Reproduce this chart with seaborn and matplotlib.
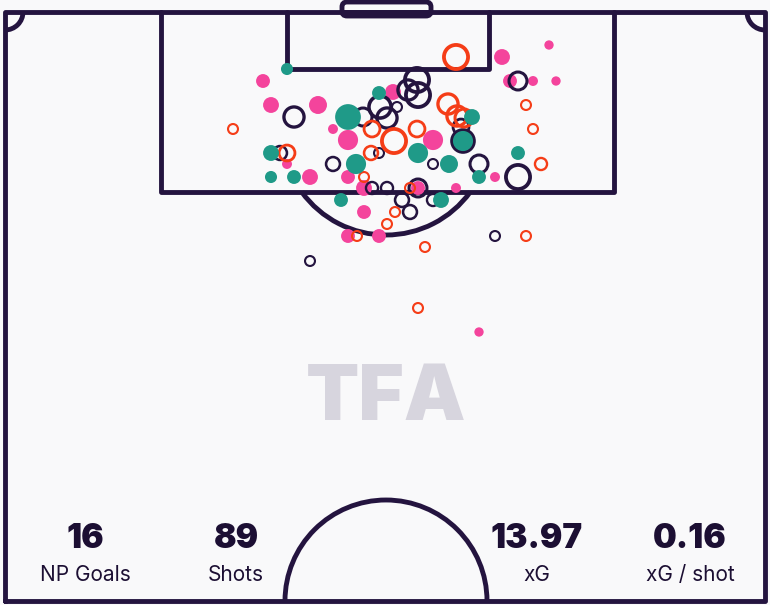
import numpy as np
import pandas as pd
import matplotlib
matplotlib.use("Agg")
import matplotlib.pyplot as plt
from matplotlib.patches import Arc, FancyBboxPatch
import seaborn as sns

# ---- shot data (pitch units, goal line at top) ----
goal_x = [287, 379, 348, 472, 463, 418, 271, 356, 449, 518, 479, 271, 294, 341, 441]
goal_y = [69, 93, 117, 117, 141, 153, 153, 164, 164, 153, 177, 177, 177, 200, 200]
goal_xg = [0.06, 0.10, 0.51, 0.15, 0.28, 0.28, 0.15, 0.28, 0.21, 0.10, 0.10, 0.06, 0.10, 0.10, 0.15]

saved_x = [502, 549, 263, 393, 271, 318, 333, 433, 348, 287, 510, 533, 556, 310, 348,
           364, 418, 456, 495, 364, 348, 379, 479]
saved_y = [57, 45, 81, 92, 105, 105, 129, 140, 140, 164, 81, 81, 81, 177, 177,
           188, 188, 188, 177, 212, 236, 236, 332]
saved_xg = [0.15, 0.01, 0.10, 0.15, 0.15, 0.21, 0.02, 0.28, 0.28, 0.02, 0.10, 0.02, 0.01, 0.15, 0.10,
            0.15, 0.10, 0.02, 0.02, 0.10, 0.10, 0.10, 0.01]

blocked_x = [417, 418, 408, 380, 387, 363, 397, 294, 518, 461, 463, 280, 379, 333, 433,
             479, 518, 372, 387, 418, 402, 433, 410, 495, 310]
blocked_y = [80, 95, 90, 107, 118, 117, 107, 117, 81, 127, 141, 153, 153, 164, 164,
             164, 177, 188, 188, 188, 200, 200, 212, 236, 261]
blocked_xg = [0.43, 0.43, 0.28, 0.35, 0.28, 0.21, 0.02, 0.28, 0.21, 0.15, 0.35, 0.10, 0.02, 0.10, 0.02,
              0.21, 0.43, 0.06, 0.06, 0.21, 0.10, 0.06, 0.10, 0.02, 0.02]

offt_x = [456, 233, 372, 394, 417, 448, 457, 464, 371, 287, 541, 533, 526, 364, 410,
          395, 387, 357, 526, 425, 418]
offt_y = [57, 129, 129, 141, 129, 104, 116, 118, 153, 153, 164, 129, 105, 177, 188,
          212, 224, 236, 236, 247, 308]
offt_xg = [0.43, 0.02, 0.15, 0.43, 0.15, 0.28, 0.28, 0.21, 0.10, 0.15, 0.06, 0.02, 0.02, 0.02, 0.02,
           0.02, 0.02, 0.02, 0.02, 0.02, 0.02]

stat_values = ["16", "89", "13.97", "0.16"]
stat_labels = ["NP Goals", "Shots", "xG", "xG / shot"]

# ---- styling ----
BG = "#f9f9fa"
LINE = "#24143f"
PINK = "#f4449c"
TEAL = "#1f9a88"
RED = "#f53d17"
NAVY = "#24143f"
palette = {"Goal": TEAL, "Saved": PINK, "Blocked": NAVY, "Off target": RED}

def frame(xs, ys, xg, outcome):
    return pd.DataFrame({"x": xs, "y": ys, "xg": xg, "outcome": outcome})

goals = frame(goal_x, goal_y, goal_xg, "Goal")
saved = frame(saved_x, saved_y, saved_xg, "Saved")
hollow = pd.concat([frame(blocked_x, blocked_y, blocked_xg, "Blocked"),
                    frame(offt_x, offt_y, offt_xg, "Off target")], ignore_index=True)

sns.set_theme(style="white")
plt.rcParams["font.family"] = ["Inter", "DejaVu Sans"]

fig = plt.figure(figsize=(7.7, 6.05), dpi=100, facecolor=BG)
ax = fig.add_axes([0, 0, 1, 1])
ax.set_facecolor(BG)
ax.set_xlim(0, 770)
ax.set_ylim(605, 0)
ax.axis("off")

# ---- pitch ----
lw = 3.5
kw = dict(color=LINE, lw=lw, solid_capstyle="round", solid_joinstyle="round", zorder=1)
L, R, T, B = 5, 765, 12, 601
ax.plot([L, L, R, R, L], [B, T, T, B, B], **kw)
# goal (rounded frame)
ax.add_patch(FancyBboxPatch((342, 2), 89, 14, boxstyle="round,pad=0,rounding_size=5",
                            fc="none", ec=LINE, lw=lw, zorder=1))
ax.plot([342, 431], [T, T], **kw)
# six-yard box
ax.plot([287, 287, 489, 489], [T, 69, 69, T], **kw)
# penalty area
ax.plot([161, 161, 614, 614], [T, 192, 192, T], **kw)
# penalty arc (outside the box)
cx, cy, pr = 386, 131, 104
ang = np.degrees(np.arccos((192 - cy) / pr))
ax.add_patch(Arc((cx, cy), 2 * pr, 2 * pr, theta1=90 - ang, theta2=90 + ang,
                 color=LINE, lw=lw, zorder=1))
# corner arcs
ax.add_patch(Arc((L, T), 36, 36, theta1=0, theta2=90, color=LINE, lw=lw, zorder=1))
ax.add_patch(Arc((R, T), 36, 36, theta1=90, theta2=180, color=LINE, lw=lw, zorder=1))
# centre circle
ax.add_patch(Arc((386, B), 202, 202, theta1=180, theta2=360, color=LINE, lw=lw, zorder=1))

# watermark
ax.text(386, 400, "TFA", ha="center", va="center", fontsize=56, fontweight="black",
        color="#d7d5de", zorder=0.5)

# ---- shots ----
size_kw = dict(size="xg", sizes=(39, 344), size_norm=(0, 0.5), legend=False, ax=ax)

sns.scatterplot(data=saved, x="x", y="y", hue="outcome", palette=palette,
                linewidth=0, zorder=3, **size_kw)

sns.scatterplot(data=hollow, x="x", y="y", hue="outcome", palette=palette,
                zorder=4, **size_kw)
rings = ax.collections[-1]
ring_colors = rings.get_facecolors().copy()
rings.set_edgecolors(ring_colors)
rings.set_facecolors("none")
radius_px = np.sqrt(19 + 294 * hollow["xg"].to_numpy())
rings.set_linewidths(0.72 * (0.9 + 0.24 * radius_px))

sns.scatterplot(data=goals, x="x", y="y", hue="outcome", palette=palette,
                linewidth=0, zorder=5, **size_kw)

# ---- summary stats ----
for xpos, val, lab in zip([85, 236, 537, 690], stat_values, stat_labels):
    ax.text(xpos, 539, val, ha="center", va="center", fontsize=24, fontweight="black",
            color="#1c0f33")
    ax.text(xpos, 575, lab, ha="center", va="center", fontsize=15, color="#1c0f33")

fig.savefig("out.png", dpi=100, facecolor=BG)
